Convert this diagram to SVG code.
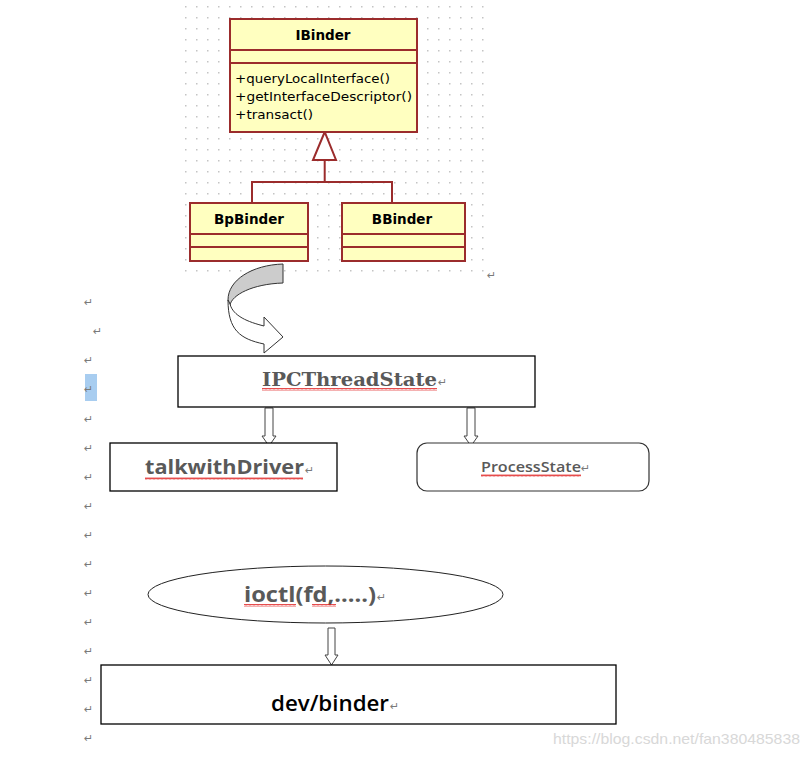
<svg xmlns="http://www.w3.org/2000/svg" width="810" height="757" viewBox="0 0 810 757">
<defs>
<pattern id="dots" patternUnits="userSpaceOnUse" x="0" y="0" width="11" height="11">
<rect x="9" y="6" width="1.5" height="1.5" fill="#c4c4c4"/>
</pattern>
<pattern id="wavy" patternUnits="userSpaceOnUse" x="0" y="0" width="4" height="3">
<polyline points="0,2.5 1,0.5 2,2.5 3,0.5 4,2.5" fill="none" stroke="#e02020" stroke-width="0.8"/>
</pattern>
</defs>
<style>
.uml{fill:#FFFFC0;stroke:#9B2C2C;stroke-width:2}
.umlline{fill:none;stroke:#9B2C2C;stroke-width:2}
.umltitle{font-family:"DejaVu Sans",Verdana,sans-serif;font-weight:bold;font-size:13.5px;fill:#000;text-anchor:middle}
.umlm{font-family:"DejaVu Sans",Verdana,sans-serif;font-size:12.5px;fill:#000}
.box{fill:#fff;stroke:#000;stroke-width:1.3}
.harrow{fill:#fff;stroke:#444;stroke-width:1}
.gtext{fill:#595959;font-weight:bold}
.ret{font-family:"DejaVu Sans",sans-serif;font-size:11px;fill:#7a7a7a}
.wave{fill:url(#wavy)}
</style>
<rect width="810" height="757" fill="#fff"/>
<rect x="184" y="0" width="306" height="274" fill="url(#dots)"/>

<g id="connectors">
<polygon points="324.7,132 313,160 336,160" fill="#fff" stroke="#9B2C2C" stroke-width="2"/>
<polyline class="umlline" points="324.7,160 324.7,182"/>
<polyline class="umlline" points="252,203 252,182 392,182 392,203"/>
<path d="M283,264 C252,265 228,280 228,300 L230,305 C232,295 252,284 283,283 Z" fill="#cccccc" stroke="#333" stroke-width="1"/>
<path d="M230,304 C233,316 248,322 264,326 L264,317 L283,337 L264,353 L264,344 C240,339 228,330 228,300 Z" fill="#fff" stroke="#333" stroke-width="1"/>
<polygon class="harrow" points="265,408 273,408 273,436 276,436 269,446 262,436 265,436"/>
<polygon class="harrow" points="467,408 475,408 475,436 478,436 471,446 464,436 467,436"/>
<polygon class="harrow" points="328,628 335,628 335,655 338,655 331.5,665 325,655 328,655"/>
</g>

<g id="IBinder">
<rect class="uml" x="230" y="19" width="187" height="113"/>
<line class="umlline" x1="230" y1="50" x2="417" y2="50"/>
<line class="umlline" x1="230" y1="63" x2="417" y2="63"/>
<text class="umltitle" x="323" y="40">IBinder</text>
<text class="umlm" x="235" y="83" textLength="155" lengthAdjust="spacingAndGlyphs">+queryLocalInterface()</text>
<text class="umlm" x="235" y="101" textLength="177" lengthAdjust="spacingAndGlyphs">+getInterfaceDescriptor()</text>
<text class="umlm" x="235" y="119" textLength="78" lengthAdjust="spacingAndGlyphs">+transact()</text>
</g>
<g id="BpBinder">
<rect class="uml" x="190" y="203" width="118" height="58"/>
<line class="umlline" x1="190" y1="234" x2="308" y2="234"/>
<line class="umlline" x1="190" y1="247" x2="308" y2="247"/>
<text class="umltitle" x="249" y="224">BpBinder</text>
</g>
<g id="BBinder">
<rect class="uml" x="342" y="203" width="123" height="58"/>
<line class="umlline" x1="342" y1="234" x2="465" y2="234"/>
<line class="umlline" x1="342" y1="247" x2="465" y2="247"/>
<text class="umltitle" x="402" y="224">BBinder</text>
</g>

<g id="IPCThreadState">
<rect class="box" x="178" y="356" width="357" height="51"/>
<text class="gtext" x="262" y="386" font-family="'DejaVu Serif','Liberation Serif',serif" font-size="19" textLength="175" lengthAdjust="spacingAndGlyphs">IPCThreadState</text>
<rect class="wave" x="262" y="388" width="175" height="3"/>
<text class="ret" x="438" y="386">↵</text>
</g>
<g id="talkwithDriver">
<rect class="box" x="110" y="443" width="227" height="48"/>
<text class="gtext" x="145" y="474" font-family="'Open Sans','Liberation Sans',sans-serif" font-size="20" textLength="159" lengthAdjust="spacingAndGlyphs">talkwithDriver</text>
<rect class="wave" x="145" y="477" width="158" height="3"/>
<text class="ret" x="305" y="474">↵</text>
</g>
<g id="ProcessState">
<rect x="417" y="443" width="232" height="48" rx="10" fill="#fff" stroke="#333" stroke-width="1.2"/>
<text x="481" y="472" fill="#595959" font-family="'Open Sans','Liberation Sans',sans-serif" font-size="14" font-weight="600" textLength="100" lengthAdjust="spacingAndGlyphs">ProcessState</text>
<rect class="wave" x="481" y="474" width="100" height="3"/>
<text class="ret" x="581" y="472">↵</text>
</g>
<g id="ioctl">
<ellipse cx="325.5" cy="594.5" rx="177.5" ry="28.5" fill="#fff" stroke="#222" stroke-width="1"/>
<text class="gtext" x="244" y="602" font-family="'Open Sans','Liberation Sans',sans-serif" font-size="22" textLength="132" lengthAdjust="spacingAndGlyphs">ioctl(fd,.....)</text>
<rect class="wave" x="244" y="604" width="52" height="3"/>
<rect class="wave" x="312" y="604" width="24" height="3"/>
<text class="ret" x="377" y="601">↵</text>
</g>
<g id="devbinder">
<rect class="box" x="101" y="665" width="515" height="59"/>
<text x="271" y="711" fill="#000" font-family="'Open Sans','Liberation Sans',sans-serif" font-size="22" font-weight="600" textLength="118" lengthAdjust="spacingAndGlyphs">dev/binder</text>
<text class="ret" x="390" y="710">↵</text>
</g>

<rect x="85" y="374" width="12" height="27" fill="#a8cdf0"/>
<g id="returns">
<text class="ret" x="487" y="279">↵</text>
<text class="ret" x="84" y="306">↵</text>
<text class="ret" x="93" y="335">↵</text>
<text class="ret" x="84" y="364">↵</text>
<text class="ret" x="84" y="393">↵</text>
<text class="ret" x="84" y="423">↵</text>
<text class="ret" x="84" y="452">↵</text>
<text class="ret" x="84" y="481">↵</text>
<text class="ret" x="84" y="510">↵</text>
<text class="ret" x="84" y="539">↵</text>
<text class="ret" x="84" y="568">↵</text>
<text class="ret" x="84" y="597">↵</text>
<text class="ret" x="84" y="626">↵</text>
<text class="ret" x="84" y="655">↵</text>
<text class="ret" x="84" y="684">↵</text>
<text class="ret" x="84" y="713">↵</text>
<text class="ret" x="84" y="742">↵</text>
</g>
<text x="553" y="744" fill="#d8d8d8" font-family="'Liberation Sans',Arial,sans-serif" font-size="14.5" textLength="247" lengthAdjust="spacingAndGlyphs">https://blog.csdn.net/fan380485838</text>
</svg>
